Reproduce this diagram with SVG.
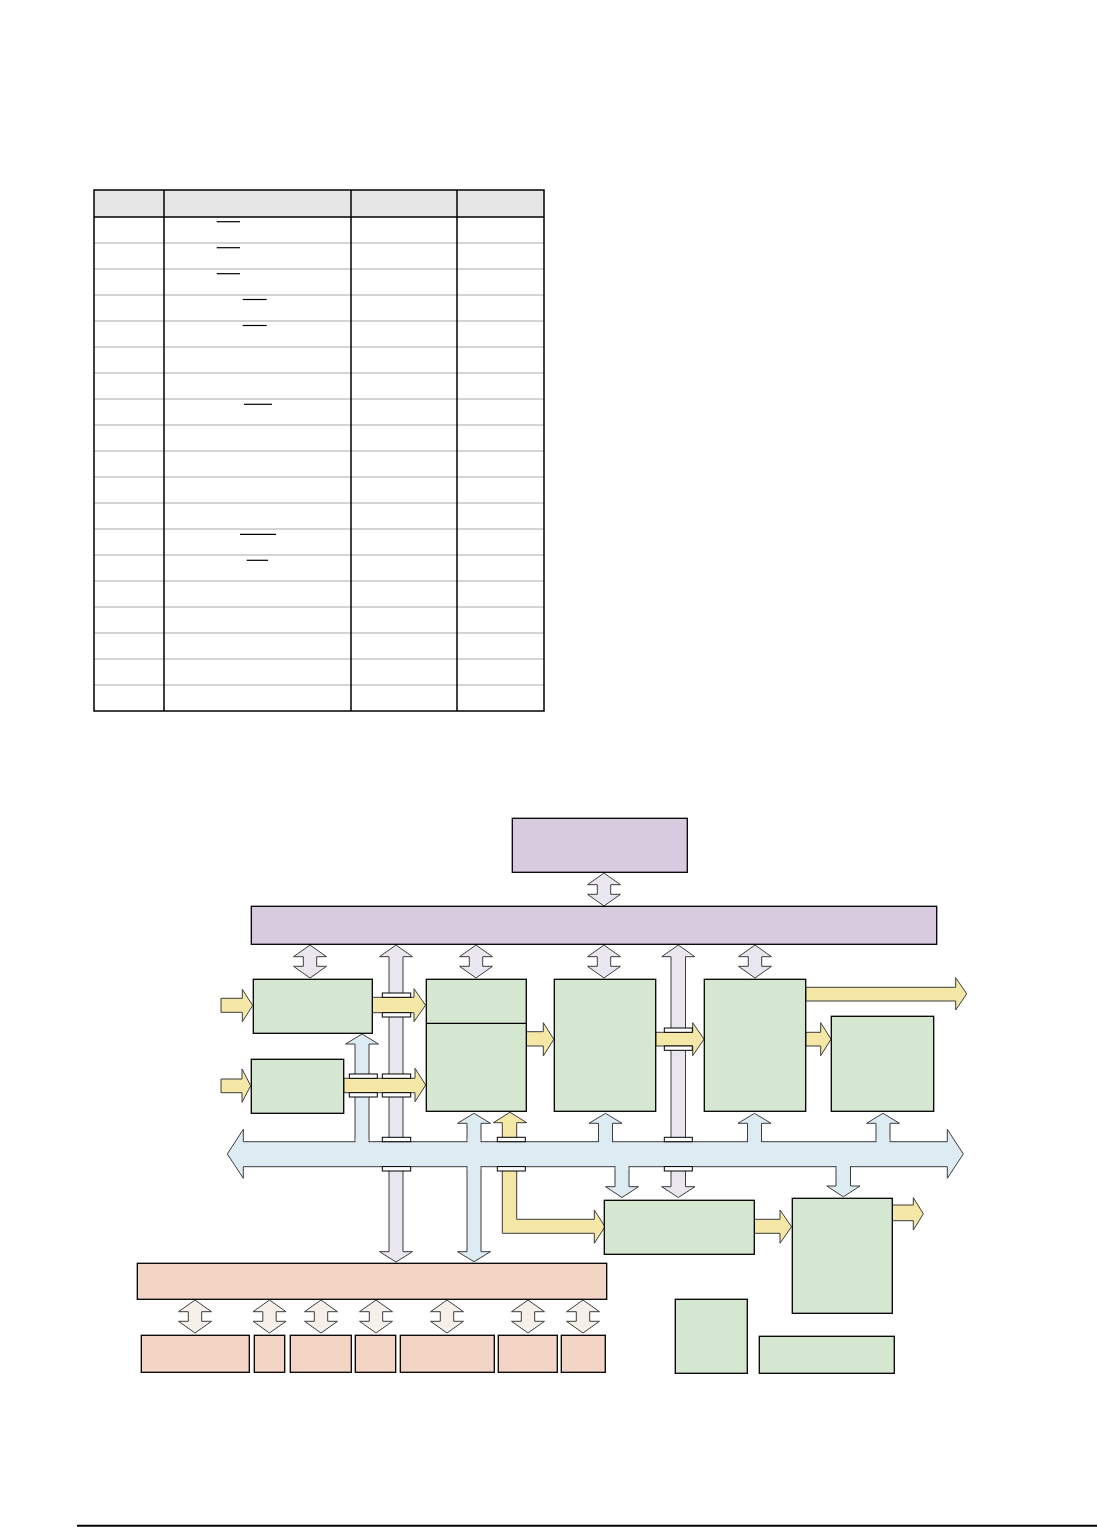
<svg xmlns="http://www.w3.org/2000/svg" xmlns:xlink="http://www.w3.org/1999/xlink" width="1097" height="1527" viewBox="0 0 1097 1527">
<style>
.row{stroke:#aaaaaa;stroke-width:1;fill:none}
.vl{stroke:#000;stroke-width:1.5;fill:none}
.ov{stroke:#000;stroke-width:1.2}
.box{stroke:#000;stroke-width:1.3}
.pur{fill:#d9cbdf}
.grn{fill:#d5e6d1}
.org{fill:#f2d5c5}
.arr{stroke:#3c3c3c;stroke-width:1;stroke-linejoin:miter}
.ga{fill:#e9e6ef}
.ba{fill:#ddebf3}
.ya{fill:#f5e7a5}
.ca{fill:#f6f0ea}
.cap{fill:#fff;stroke:#000;stroke-width:1}
.cov{fill:#ddebf3;stroke:none}
</style>
<defs>
<path id="dbl" d="M0,0 L16.5,11.7 L6.7,11.7 L6.7,21.3 L16.5,21.3 L0,33 L-16.5,21.3 L-6.7,21.3 L-6.7,11.7 L-16.5,11.7 Z"/>
</defs>
<rect width="1097" height="1527" fill="#fff"/>

<g id="table">
<rect x="94" y="190" width="450" height="27" fill="#e6e6e6"/>
<g class="row">
<line x1="94" y1="243" x2="544" y2="243"/><line x1="94" y1="269" x2="544" y2="269"/>
<line x1="94" y1="295" x2="544" y2="295"/><line x1="94" y1="321" x2="544" y2="321"/>
<line x1="94" y1="347" x2="544" y2="347"/><line x1="94" y1="373" x2="544" y2="373"/>
<line x1="94" y1="399" x2="544" y2="399"/><line x1="94" y1="425" x2="544" y2="425"/>
<line x1="94" y1="451" x2="544" y2="451"/><line x1="94" y1="477" x2="544" y2="477"/>
<line x1="94" y1="503" x2="544" y2="503"/><line x1="94" y1="529" x2="544" y2="529"/>
<line x1="94" y1="555" x2="544" y2="555"/><line x1="94" y1="581" x2="544" y2="581"/>
<line x1="94" y1="607" x2="544" y2="607"/><line x1="94" y1="633" x2="544" y2="633"/>
<line x1="94" y1="659" x2="544" y2="659"/><line x1="94" y1="685" x2="544" y2="685"/>
</g>
<g class="vl">
<line x1="94" y1="217" x2="544" y2="217"/>
<rect x="94" y="190" width="450" height="521"/>
<line x1="164" y1="190" x2="164" y2="711"/>
<line x1="351" y1="190" x2="351" y2="711"/>
<line x1="457" y1="190" x2="457" y2="711"/>
</g>
<g class="ov">
<line x1="216.7" y1="221.7" x2="240" y2="221.7"/>
<line x1="216.7" y1="247.7" x2="240" y2="247.7"/>
<line x1="216.7" y1="273.7" x2="240" y2="273.7"/>
<line x1="242.7" y1="299.5" x2="266.7" y2="299.5"/>
<line x1="242.7" y1="325.5" x2="266.7" y2="325.5"/>
<line x1="244" y1="404.3" x2="272" y2="404.3"/>
<line x1="240" y1="534.3" x2="276" y2="534.3"/>
<line x1="246.7" y1="560.3" x2="268" y2="560.3"/>
</g>
</g>

<g id="connectors">
<!-- double arrows purple -->
<g class="arr ga">
<use xlink:href="#dbl" x="604" y="873"/>
<use xlink:href="#dbl" x="310" y="945"/>
<use xlink:href="#dbl" x="476" y="945"/>
<use xlink:href="#dbl" x="604" y="945"/>
<use xlink:href="#dbl" x="755" y="945"/>
</g>
<g class="arr ca">
<use xlink:href="#dbl" x="195" y="1300"/>
<use xlink:href="#dbl" x="269.5" y="1300"/>
<use xlink:href="#dbl" x="321" y="1300"/>
<use xlink:href="#dbl" x="376" y="1300"/>
<use xlink:href="#dbl" x="447" y="1300"/>
<use xlink:href="#dbl" x="528" y="1300"/>
<use xlink:href="#dbl" x="583" y="1300"/>
</g>
<!-- tall grey arrows -->
<polygon class="arr ga" points="396,945 412.5,956.7 403,956.7 403,1251.7 412.5,1251.7 396,1262 379.5,1251.7 389,1251.7 389,956.7 379.5,956.7"/>
<polygon class="arr ga" points="678.3,945 694.8,956.7 685.5,956.7 685.5,1186.7 695,1186.7 678.3,1197.5 661.7,1186.7 671,1186.7 671,956.7 661.8,956.7"/>
<!-- blue branches -->
<g class="arr ba">
<polygon points="362,1034 378.5,1044 369,1044 369,1150 355,1150 355,1044 345.5,1044"/>
<polygon points="474,1113.3 490.5,1123.3 481,1123.3 481,1251.7 490.5,1251.7 474,1261.7 457.5,1251.7 467,1251.7 467,1123.3 457.5,1123.3"/>
<polygon points="605.5,1113.3 622,1123.3 612.5,1123.3 612.5,1150 598.5,1150 598.5,1123.3 589,1123.3"/>
<polygon points="754.5,1113.3 771,1123.3 761.5,1123.3 761.5,1150 747.5,1150 747.5,1123.3 738,1123.3"/>
<polygon points="883,1113.3 899.5,1123.3 890,1123.3 890,1150 876,1150 876,1123.3 866.5,1123.3"/>
<polygon points="615,1158 629,1158 629,1186.7 638.5,1186.7 622,1197.5 605.5,1186.7 615,1186.7"/>
<polygon points="836,1158 850.5,1158 850.5,1186 860,1186 843.3,1196.8 826.8,1186 836,1186"/>
</g>
<!-- yellow L arrow under bus -->
<polygon class="arr ya" points="510,1112.3 526.7,1122.7 516.7,1122.7 516.7,1219.3 594.3,1219.3 594.3,1210 605,1226.7 594.3,1243.3 594.3,1233.3 502.3,1233.3 502.3,1122.7 493.3,1122.7"/>
<!-- bus -->
<polygon class="arr ba" points="227.3,1154 243.3,1129.3 243.3,1141.7 947.3,1141.7 947.3,1129.3 963.3,1154 947.3,1178.3 947.3,1166.7 243.3,1166.7 243.3,1178.3"/>
<g class="cov">
<rect x="355.6" y="1139" width="12.8" height="6"/>
<rect x="467.6" y="1139" width="12.8" height="6"/>
<rect x="467.6" y="1163" width="12.8" height="6"/>
<rect x="599.1" y="1139" width="12.8" height="6"/>
<rect x="748.1" y="1139" width="12.8" height="6"/>
<rect x="876.6" y="1139" width="12.8" height="6"/>
<rect x="615.6" y="1163" width="12.8" height="6"/>
<rect x="836.6" y="1163" width="13.3" height="6"/>
</g>
<!-- yellow arrows -->
<g class="arr ya">
<polygon points="221,998.3 242.3,998.3 242.3,989.3 252.7,1005.5 242.3,1021.7 242.3,1012.3 221,1012.3"/>
<polygon points="221,1079 242,1079 242,1069 250.7,1085.7 242,1102.3 242,1092.7 221,1092.7"/>
<polygon points="372.3,997.3 414,997.3 414,988.7 425.5,1005.2 414,1021.7 414,1012.7 372.3,1012.7"/>
<polygon points="343.7,1078.3 415,1078.3 415,1068.3 425.7,1085 415,1101.7 415,1092.7 343.7,1092.7"/>
<polygon points="526.3,1031.7 543.3,1031.7 543.3,1022.7 553.8,1039.3 543.3,1056 543.3,1046 526.3,1046"/>
<polygon points="655.7,1032.3 692.7,1032.3 692.7,1022.7 704,1039.2 692.7,1055.7 692.7,1046 655.7,1046"/>
<polygon points="805.7,1032.3 820.7,1032.3 820.7,1022.7 831,1039.2 820.7,1055.7 820.7,1046 805.7,1046"/>
<polygon points="805.7,987.3 955.7,987.3 955.7,977.7 966.7,993.8 955.7,1010 955.7,1001 805.7,1001"/>
<polygon points="754.3,1219.3 780,1219.3 780,1210 791.5,1226.7 780,1243.3 780,1233.3 754.3,1233.3"/>
<polygon points="892.3,1205 913.3,1205 913.3,1197.7 923.3,1213.8 913.3,1230 913.3,1220.7 892.3,1220.7"/>
</g>
<!-- crossing caps -->
<g class="cap">
<rect x="382.3" y="1137.3" width="28.4" height="4.4"/>
<rect x="382.3" y="1166.6" width="28.4" height="4.4"/>
<rect x="664.3" y="1137.3" width="28" height="4.4"/>
<rect x="664.3" y="1166.6" width="28" height="4.4"/>
<rect x="497.3" y="1137.3" width="28" height="4.4"/>
<rect x="497.3" y="1166.6" width="28" height="4.4"/>
<rect x="382.3" y="993" width="28.4" height="4.3"/>
<rect x="382.3" y="1012.7" width="28.4" height="4.3"/>
<rect x="382.3" y="1074" width="28.4" height="4.3"/>
<rect x="382.3" y="1092.7" width="28.4" height="4.3"/>
<rect x="349.3" y="1074" width="28" height="4.3"/>
<rect x="349.3" y="1092.7" width="28" height="4.3"/>
<rect x="664.3" y="1028" width="28" height="4.3"/>
<rect x="664.3" y="1046" width="28" height="4.3"/>
</g>
</g>

<g id="n-top"><rect class="box pur" x="512.3" y="818.3" width="175" height="54"/></g>
<g id="n-bar"><rect class="box pur" x="251.3" y="906.3" width="685.4" height="38"/></g>
<g id="n-a"><rect class="box grn" x="253.3" y="979.3" width="119" height="54"/></g>
<g id="n-b"><rect class="box grn" x="251.3" y="1059.3" width="92.4" height="54"/></g>
<g id="n-c"><rect class="box grn" x="426.3" y="979.3" width="100" height="132"/><line class="box" x1="426.3" y1="1023.3" x2="526.3" y2="1023.3"/></g>
<g id="n-d"><rect class="box grn" x="554.3" y="979.3" width="101.4" height="132"/></g>
<g id="n-e"><rect class="box grn" x="704.3" y="979.3" width="101.4" height="132"/></g>
<g id="n-f"><rect class="box grn" x="831.3" y="1016.3" width="102.4" height="95"/></g>
<g id="n-g"><rect class="box grn" x="604.3" y="1200.3" width="150" height="54"/></g>
<g id="n-h"><rect class="box grn" x="792.3" y="1198.3" width="100" height="115"/></g>
<g id="n-i"><rect class="box grn" x="675.3" y="1299.3" width="72" height="74"/></g>
<g id="n-j"><rect class="box grn" x="759.3" y="1336.3" width="135" height="37"/></g>
<g id="n-orange-bar"><rect class="box org" x="137.3" y="1263.3" width="469.4" height="36"/></g>
<g id="n-o1"><rect class="box org" x="141.3" y="1335.3" width="108" height="37"/></g>
<g id="n-o2"><rect class="box org" x="254.3" y="1335.3" width="30.4" height="37"/></g>
<g id="n-o3"><rect class="box org" x="290.3" y="1335.3" width="61" height="37"/></g>
<g id="n-o4"><rect class="box org" x="355.3" y="1335.3" width="40.4" height="37"/></g>
<g id="n-o5"><rect class="box org" x="400.3" y="1335.3" width="94" height="37"/></g>
<g id="n-o6"><rect class="box org" x="498.3" y="1335.3" width="59" height="37"/></g>
<g id="n-o7"><rect class="box org" x="561.3" y="1335.3" width="44" height="37"/></g>

<line x1="77" y1="1525.8" x2="1097" y2="1525.8" stroke="#000" stroke-width="2"/>
</svg>
